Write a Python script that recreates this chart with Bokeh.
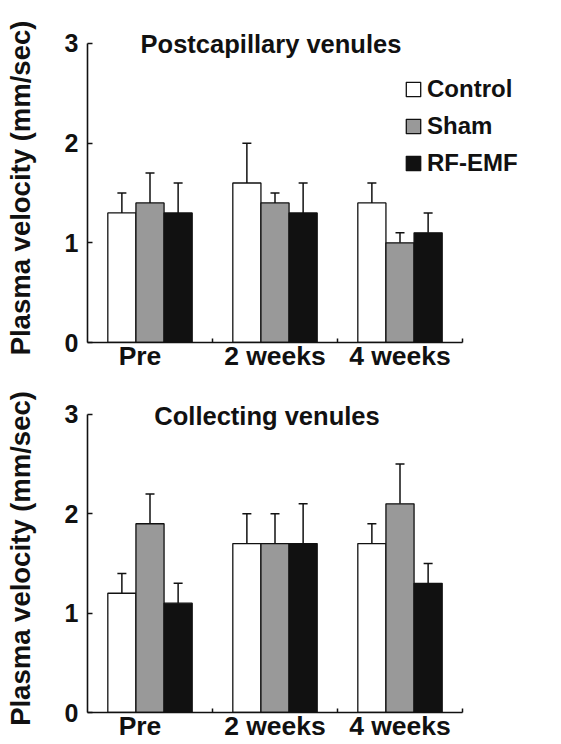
from bokeh.plotting import figure
from bokeh.models import (ColumnDataSource, Whisker, TeeHead, Legend, LegendItem,
                          Label, FixedTicker, Range1d)
from bokeh.layouts import column
from bokeh.embed import file_html
from bokeh.resources import INLINE

# ---- data ----
categories = ["Pre", "2 weeks", "4 weeks"]
groups = ["Control", "Sham", "RF-EMF"]
y_ticks = [0, 1, 2, 3]

post_control = [1.3, 1.6, 1.4]
post_control_err = [0.2, 0.4, 0.2]
post_sham = [1.4, 1.4, 1.0]
post_sham_err = [0.3, 0.1, 0.1]
post_rf = [1.3, 1.3, 1.1]
post_rf_err = [0.3, 0.3, 0.2]

coll_control = [1.2, 1.7, 1.7]
coll_control_err = [0.2, 0.3, 0.2]
coll_sham = [1.9, 1.7, 2.1]
coll_sham_err = [0.3, 0.3, 0.4]
coll_rf = [1.1, 1.7, 1.3]
coll_rf_err = [0.2, 0.4, 0.2]

FONT = "Liberation Sans"
INK = "#111111"
fills = ["#ffffff", "#999999", "#111111"]
BAR_W = 0.225
offsets = [-0.225, 0.0, 0.225]
X_END = 3.6
Y_END = 3.1
label_pos = [0.42, 1.5, 2.5]


def make_panel(title, series, errs, top_b, frame_h, bot_b, legend, tx_off, ty_off):
    p = figure(frame_width=450, frame_height=frame_h,
               x_range=Range1d(0, X_END), y_range=Range1d(0, Y_END),
               output_backend="svg", toolbar_location=None,
               min_border_left=87, min_border_right=24,
               min_border_top=top_b, min_border_bottom=bot_b)
    p.outline_line_color = None
    p.grid.visible = False
    p.title.visible = False

    renderers = []
    for k in range(3):
        xs = [i + 0.5 + offsets[k] for i in range(len(categories))]
        vals = series[k]
        tops = [v + e for v, e in zip(vals, errs[k])]
        src = ColumnDataSource(dict(x=xs, top=vals, upper=tops))
        r = p.vbar(x="x", top="top", bottom=0, width=BAR_W, source=src,
                   fill_color=fills[k], line_color=INK, line_width=1.3)
        renderers.append(r)
        w = Whisker(base="x", lower="top", upper="upper", source=src,
                    dimension="height", line_color=INK, line_width=1.5,
                    lower_head=None,
                    upper_head=TeeHead(size=9, line_color=INK, line_width=1.5))
        p.add_layout(w)

    # y axis
    ya = p.yaxis[0]
    ya.bounds = (0, 3)
    ya.ticker = FixedTicker(ticks=y_ticks, minor_ticks=[])
    ya.axis_label = "Plasma velocity (mm/sec)"
    ya.axis_label_text_font = FONT
    ya.axis_label_text_font_size = "27.5px"
    ya.axis_label_text_font_style = "bold"
    ya.axis_label_text_color = INK
    ya.axis_label_standoff = 26
    ya.major_label_text_font = FONT
    ya.major_label_text_font_size = "25px"
    ya.major_label_text_font_style = "bold"
    ya.major_label_text_color = INK
    ya.major_label_standoff = 9
    ya.axis_line_width = 1.6
    ya.axis_line_color = INK
    ya.major_tick_line_width = 1.6
    ya.major_tick_line_color = INK
    ya.major_tick_out = 0
    ya.major_tick_in = 5
    ya.minor_tick_line_color = None

    # x axis
    xa = p.xaxis[0]
    xa.bounds = (0, 3)
    xa.ticker = FixedTicker(ticks=label_pos, minor_ticks=[1, 2, 3])
    xa.major_label_overrides = {pos: c for pos, c in zip(label_pos, categories)}
    xa.major_label_text_font = FONT
    xa.major_label_text_font_size = "26.5px"
    xa.major_label_text_font_style = "bold"
    xa.major_label_text_color = INK
    xa.major_label_standoff = -2
    xa.major_tick_line_color = None
    xa.major_tick_out = 0
    xa.major_tick_in = 0
    xa.minor_tick_out = 0
    xa.minor_tick_in = 4
    xa.minor_tick_line_width = 1.5
    xa.minor_tick_line_color = INK
    xa.axis_line_width = 1.6
    xa.axis_line_color = INK

    p.add_layout(Label(x=1.5, y=3, text=title, text_align="center",
                       text_baseline="middle", x_offset=tx_off, y_offset=ty_off,
                       text_font=FONT, text_font_size="25.5px",
                       text_font_style="bold", text_color=INK))

    if legend:
        items = [LegendItem(label=g, renderers=[r]) for g, r in zip(groups, renderers)]
        leg = Legend(items=items, location=(317, 165), padding=0, margin=0,
                     border_line_color=None, background_fill_alpha=0,
                     glyph_width=18, glyph_height=18, label_standoff=5,
                     spacing=9, label_height=18,
                     label_text_font=FONT, label_text_font_size="24px",
                     label_text_font_style="bold", label_text_color=INK)
        p.add_layout(leg)
    return p


p1 = make_panel("Postcapillary venules", [post_control, post_sham, post_rf],
                [post_control_err, post_sham_err, post_rf_err],
                33, 309, 32, True, -4, -1)
p2 = make_panel("Collecting venules", [coll_control, coll_sham, coll_rf],
                [coll_control_err, coll_sham_err, coll_rf_err],
                30, 308, 32, False, -8, -2)

layout = column(p1, p2, spacing=0)
open("out.html", "w").write(file_html(layout, INLINE))
